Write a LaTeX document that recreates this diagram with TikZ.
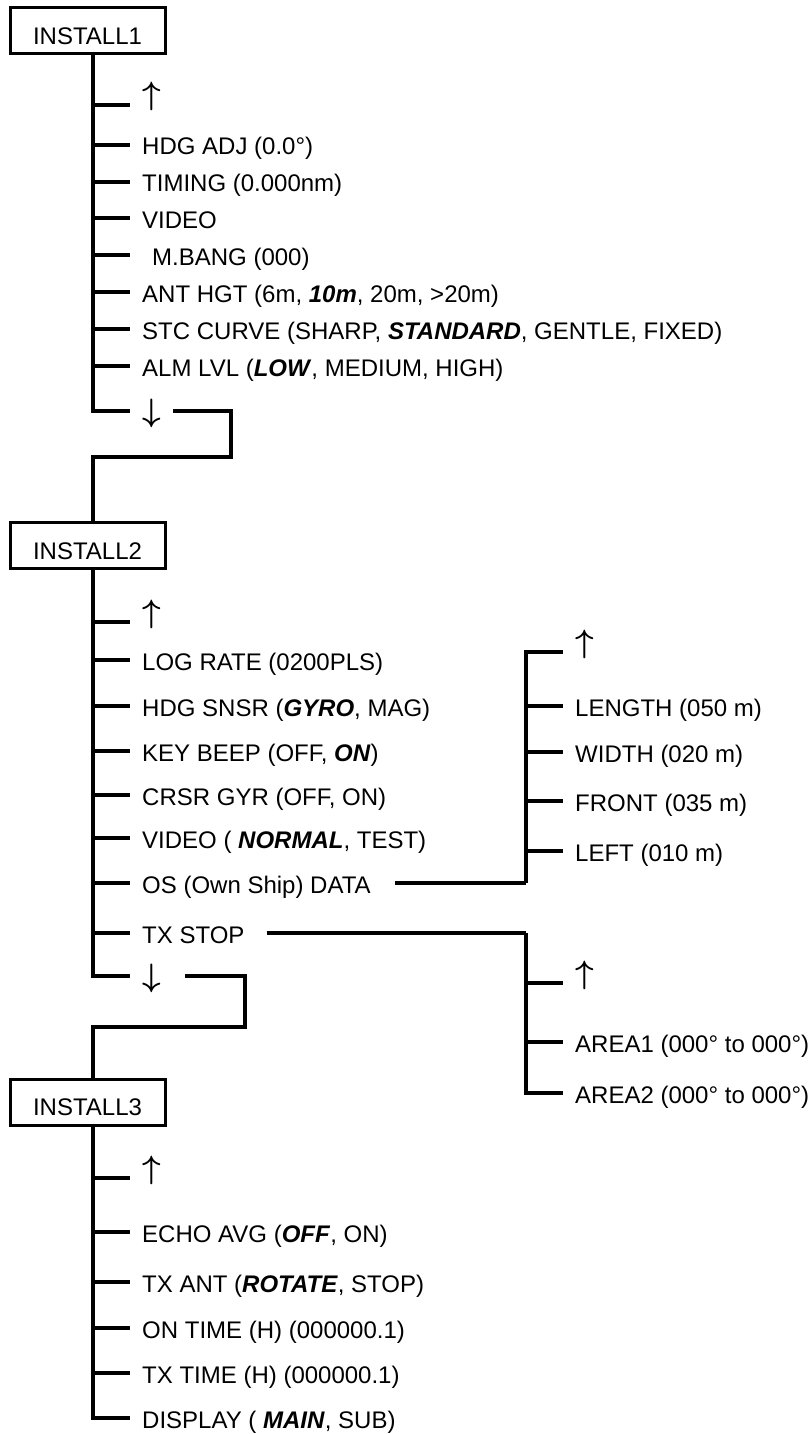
\documentclass[tikz,border=0pt]{standalone}
\usepackage{graphicx}
\usepackage{fontspec}
\setmainfont{Liberation Sans}

\newcommand{\dflt}[1]{\textbf{\textit{#1}}}
\newcommand{\menuup}{\raisebox{10pt}{\scalebox{1.3}{\boldmath$\uparrow$}}}
\newcommand{\menudown}{\scalebox{1.3}{\boldmath$\downarrow$}}

\begin{document}
\begin{tikzpicture}[
  x=1pt, y=1pt, font=\fontsize{24}{28}\selectfont,
  menu/.style={draw, line width=3pt, minimum width=155pt, minimum height=46pt, inner sep=0pt, text height=27pt, text depth=0pt},
  item/.style={anchor=west, inner xsep=12pt, inner ysep=0pt, text height=24pt, text depth=4pt},
  wire/.style={line width=3.5pt}
]
  \useasboundingbox (0,0) rectangle (810,-1434);

  \node[menu] (in1) at (87.5,-31) {INSTALL1};
  \node[item] (up1) at (130,-105) {\menuup};
  \node[item] (hdg) at (130,-145) {HDG ADJ (0.0°)};
  \node[item] (tim) at (130,-182) {TIMING (0.000nm)};
  \node[item] (vid1) at (130,-218) {VIDEO};
  \node[item] (mb) at (130,-255) {\hspace{10pt}M.BANG (000)};
  \node[item] (ant) at (130,-292) {ANT HGT (6m, \dflt{10m}, 20m, >20m)};
  \node[item] (stc) at (130,-329) {STC CURVE (SHARP, \dflt{STANDARD}, GENTLE, FIXED)};
  \node[item] (alm) at (130,-366) {ALM LVL (\dflt{LOW}, MEDIUM, HIGH)};
  \node[item] (dn1) at (130,-411) {\menudown};
  \coordinate (j1) at (231,-457);

  \node[menu] (in2) at (87.5,-545.5) {INSTALL2};
  \node[item] (up2) at (130,-622) {\menuup};
  \node[item] (log) at (130,-660) {LOG RATE (0200PLS)};
  \node[item] (sns) at (130,-706) {HDG SNSR (\dflt{GYRO}, MAG)};
  \node[item] (key) at (130,-751) {KEY BEEP (OFF, \dflt{ON})};
  \node[item] (crs) at (130,-795) {CRSR GYR (OFF, ON)};
  \node[item] (vid2) at (130,-838) {VIDEO ( \dflt{NORMAL}, TEST)};
  \node[item] (os) at (130,-883) {OS (Own Ship) DATA\kern12pt};
  \node[item] (tx) at (130,-933) {TX STOP\kern10pt};
  \node[item] (dn2) at (130,-976) {\menudown\kern12pt};
  \coordinate (j2) at (245,-1027);

  \coordinate (osj) at (526,-883);
  \node[item] (up4) at (563,-652) {\menuup};
  \node[item] (len) at (563,-706) {LENGTH (050 m)};
  \node[item] (wid) at (563,-752) {WIDTH (020 m)};
  \node[item] (fro) at (563,-801) {FRONT (035 m)};
  \node[item] (lef) at (563,-851) {LEFT (010 m)};

  \coordinate (txj) at (526,-933);
  \node[item] (up5) at (563,-983) {\menuup};
  \node[item] (ar1) at (563,-1042) {AREA1 (000° to 000°)};
  \node[item] (ar2) at (563,-1093) {AREA2 (000° to 000°)};

  \node[menu] (in3) at (87.5,-1102) {INSTALL3};
  \node[item] (up3) at (130,-1178) {\menuup};
  \node[item] (echo) at (130,-1232) {ECHO AVG (\dflt{OFF}, ON)};
  \node[item] (ant3) at (130,-1282) {TX ANT (\dflt{ROTATE}, STOP)};
  \node[item] (ont) at (130,-1328) {ON TIME (H) (000000.1)};
  \node[item] (txt) at (130,-1373) {TX TIME (H) (000000.1)};
  \node[item] (disp) at (130,-1418) {DISPLAY ( \dflt{MAIN}, SUB)};

  \foreach \n in {up1,hdg,tim,vid1,mb,ant,stc,alm,dn1}
    \draw[wire] ([xshift=5.5pt]in1.south) |- (\n.west);
  \draw[wire] (dn1.east) -| (j1) -| ([xshift=5.5pt]in2.north);

  \foreach \n in {up2,log,sns,key,crs,vid2,os,tx,dn2}
    \draw[wire] ([xshift=5.5pt]in2.south) |- (\n.west);
  \draw[wire] (dn2.east) -| (j2) -| ([xshift=5.5pt]in3.north);

  \draw[wire] (os.east) -- (osj);
  \foreach \n in {up4,len,wid,fro,lef}
    \draw[wire] (osj) |- (\n.west);

  \draw[wire] (tx.east) -- (txj);
  \foreach \n in {up5,ar1,ar2}
    \draw[wire] (txj) |- (\n.west);

  \foreach \n in {up3,echo,ant3,ont,txt,disp}
    \draw[wire] ([xshift=5.5pt]in3.south) |- (\n.west);
\end{tikzpicture}
\end{document}
